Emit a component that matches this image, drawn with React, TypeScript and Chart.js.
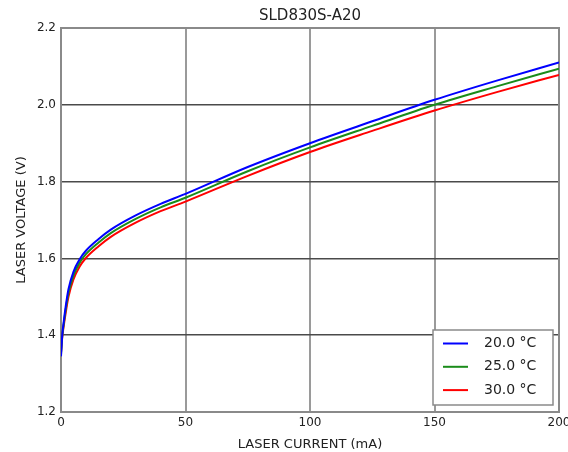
import React, { useEffect, useRef } from 'react';
import { Chart, registerables } from 'chart.js';

Chart.register(...registerables);

const chartTitle = 'SLD830S-A20';
const xTitle = 'LASER CURRENT (mA)';
const yTitle = 'LASER VOLTAGE (V)';

const currents = [0, 0.5, 1, 2, 3, 5, 7.5, 10, 15, 20, 30, 40, 50, 75, 100, 125, 150, 175, 200];
const v20 = [1.345, 1.4, 1.43, 1.48, 1.52, 1.565, 1.598, 1.62, 1.65, 1.675, 1.712, 1.742, 1.768, 1.838, 1.9, 1.957, 2.013, 2.063, 2.11];
const v25 = [1.35, 1.398, 1.425, 1.472, 1.51, 1.555, 1.589, 1.611, 1.641, 1.666, 1.703, 1.733, 1.758, 1.827, 1.889, 1.945, 2.0, 2.048, 2.094];
const v30 = [1.355, 1.395, 1.42, 1.463, 1.5, 1.545, 1.579, 1.601, 1.631, 1.656, 1.693, 1.723, 1.748, 1.815, 1.877, 1.932, 1.985, 2.033, 2.078];
const seriesLabels = ['20.0 °C', '25.0 °C', '30.0 °C'];
const seriesColors = ['#0000ff', '#1a8c1a', '#ff0000'];
const xTicks = [0, 50, 100, 150, 200];
const yTicks = [1.2, 1.4, 1.6, 1.8, 2.0, 2.2];

const FONT = '"DejaVu Sans", sans-serif';

const framePlugin = {
  id: 'frame',
  beforeDatasetsDraw(chart: any) {
    const { ctx, chartArea: a } = chart;
    ctx.save();
    ctx.strokeStyle = '#8a8a8a';
    ctx.lineWidth = 2;
    ctx.strokeRect(a.left, a.top, a.right - a.left, a.bottom - a.top);
    ctx.restore();
  },
};

const titlePlugin = {
  id: 'areaTitle',
  afterDraw(chart: any) {
    const { ctx, chartArea: a } = chart;
    ctx.save();
    ctx.font = `15px ${FONT}`;
    ctx.fillStyle = '#222';
    ctx.textAlign = 'center';
    ctx.textBaseline = 'middle';
    ctx.fillText(chartTitle, (a.left + a.right) / 2, 16);
    ctx.restore();
  },
};

const legendPlugin = {
  id: 'boxLegend',
  afterDatasetsDraw(chart: any) {
    const { ctx, chartArea: a } = chart;
    const w = 120;
    const h = 75;
    const x = a.right - 6 - w;
    const y = a.bottom - 7 - h;
    ctx.save();
    ctx.fillStyle = '#ffffff';
    ctx.fillRect(x, y, w, h);
    ctx.strokeStyle = '#8a8a8a';
    ctx.lineWidth = 1.5;
    ctx.strokeRect(x, y, w, h);
    ctx.font = `14px ${FONT}`;
    ctx.textBaseline = 'middle';
    ctx.textAlign = 'left';
    chart.data.datasets.forEach((ds: any, i: number) => {
      const ry = y + 13.5 + i * 23.3;
      ctx.strokeStyle = ds.borderColor;
      ctx.lineWidth = 2;
      ctx.beginPath();
      ctx.moveTo(x + 10, ry);
      ctx.lineTo(x + 35, ry);
      ctx.stroke();
      ctx.fillStyle = '#222';
      ctx.fillText(ds.label, x + 51, ry);
    });
    ctx.restore();
  },
};

export default function App() {
  const ref = useRef<HTMLCanvasElement | null>(null);
  useEffect(() => {
    if (!ref.current) return;
    const series = [v20, v25, v30];
    const chart = new Chart(ref.current, {
      type: 'line',
      data: {
        datasets: series.map((vals, i) => ({
          label: seriesLabels[i],
          data: currents.map((c, j) => ({ x: c, y: vals[j] })),
          borderColor: seriesColors[i],
          backgroundColor: seriesColors[i],
          borderWidth: 2,
          pointRadius: 0,
          cubicInterpolationMode: 'monotone' as const,
          fill: false,
        })),
      },
      options: {
        responsive: false,
        animation: false,
        devicePixelRatio: 1,
        layout: { padding: { left: 0, right: 9, top: 28, bottom: 0 } },
        plugins: {
          legend: { display: false },
          tooltip: { enabled: false },
          title: { display: false },
        },
        scales: {
          x: {
            type: 'linear',
            min: 0,
            max: 200,
            afterBuildTicks: (s: any) => {
              s.ticks = xTicks.map((v) => ({ value: v }));
            },
            afterFit: (s: any) => {
              s.height = 40;
              s.paddingLeft = 0;
              s.paddingRight = 0;
            },
            ticks: {
              color: '#222',
              font: { family: FONT, size: 12 },
              padding: 4,
              maxRotation: 0,
              callback: (v: any) => String(v),
            },
            grid: { color: '#9a9a9a', lineWidth: 2, drawTicks: false },
            border: { display: false },
            title: {
              display: true,
              text: xTitle,
              color: '#222',
              font: { family: FONT, size: 13 },
              padding: { top: 0, bottom: 0 },
            },
          },
          y: {
            type: 'linear',
            min: 1.2,
            max: 2.2,
            afterBuildTicks: (s: any) => {
              s.ticks = yTicks.map((v) => ({ value: v }));
            },
            afterFit: (s: any) => {
              s.width = 61;
              s.paddingTop = 0;
              s.paddingBottom = 0;
            },
            ticks: {
              color: '#222',
              font: { family: FONT, size: 12 },
              padding: 5,
              callback: (v: any) => Number(v).toFixed(1),
            },
            grid: { color: '#4a4a4a', lineWidth: 1.5, drawTicks: false },
            border: { display: false },
            title: {
              display: true,
              text: yTitle,
              color: '#222',
              font: { family: FONT, size: 13 },
              padding: { top: 13.5, bottom: 0 },
            },
          },
        },
      },
      plugins: [framePlugin, legendPlugin, titlePlugin],
    } as any);
    return () => chart.destroy();
  }, []);
  return (
    <div style={{ position: 'fixed', left: 0, top: 0, width: 568, height: 452, background: '#fff' }}>
      <canvas ref={ref} width={568} height={452} style={{ width: 568, height: 452, display: 'block' }} />
    </div>
  );
}
